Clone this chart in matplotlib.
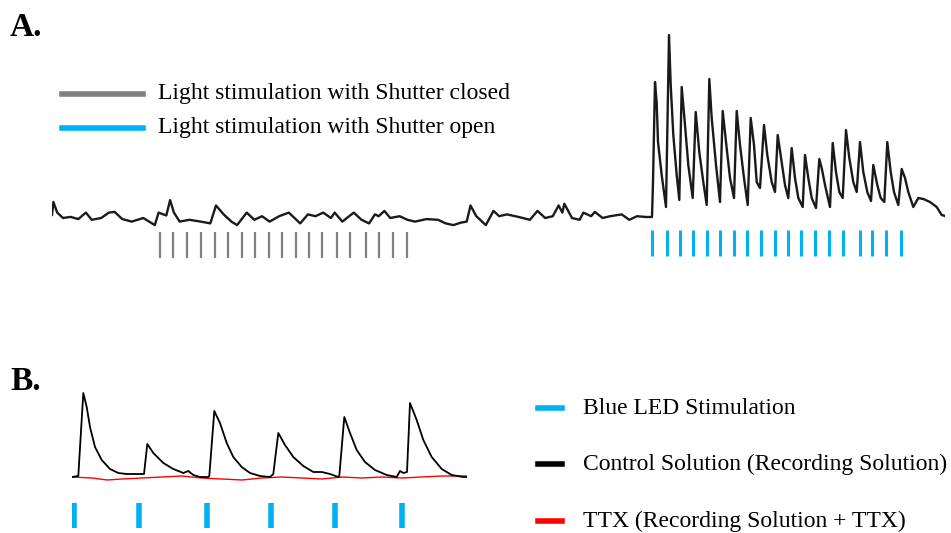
import numpy as np
import matplotlib.pyplot as plt
from matplotlib.lines import Line2D

plt.rcParams['font.family'] = ['Liberation Serif', 'DejaVu Serif']

# ---- panel A: trace (frame, a.u.) ----
trace_a_t = [0, 1.4, 5.2, 11, 18.6, 26.3, 33.9, 39.7, 49.2, 56.9, 62.6, 70.3, 79.8, 91.3,
             102.8, 106.6, 114.3, 118.1, 121.9, 127.7, 137.3, 148.7, 158.3, 164, 171.7,
             179.4, 185.1, 194.7, 202.3, 210, 217.6, 227.2, 236.8, 248.2, 255.9, 263.5,
             271.2, 278.9, 282.7, 290.3, 301.8, 309.5, 317.1, 322.9, 326.7, 332.4, 338.2,
             347.7, 355.4, 363, 374.5, 386, 393.7, 401.3, 409, 414.7, 418.5, 424.3, 433.8,
             441.5, 447.2, 454.9, 466.4, 477.9, 485.5, 493.2, 500.8, 506.6, 510.4, 512.3,
             520, 527.6, 531.4, 539.1, 542.9, 550.6, 558.2, 569.7, 577.3, 585, 594, 600,
             601, 603, 604.7, 606, 609.7, 614,
             617, 618.7, 621.3, 624.7, 627.3,
             629.7, 633, 636.3, 640.7,
             643.7, 647.3, 651.3, 654.7,
             657.3, 659.7, 664, 668,
             670.7, 674, 678, 682,
             684.7, 688, 692, 695.7,
             698.7, 702, 704.7, 708,
             712, 715.3, 719.7, 723,
             725.7, 729.7, 733, 736.3,
             739.7, 743, 746.3, 750.7,
             753, 756.3, 759.7, 764,
             767.3, 769.7, 773, 778,
             780.7, 784, 787.3, 790.7,
             794, 797.3, 801.3, 804.7,
             808, 811.3, 815.3, 819,
             821.3, 825.3, 828.7, 832.3,
             835.3, 838.7, 842, 846.3,
             849.7, 853, 856.3, 861.3,
             866.3, 871.3, 878, 884.7, 889.7, 893]
trace_a_y = [3, 16, 5.4, 0, 1.1, -1.1, 5.4, -1.8, 0, 5.4, 6.1, -1.1, -3.6, 0,
             -7.1, 5.4, 2.5, 17.9, 5.4, -3.6, -1.8, -3.6, -5.4, 12.5, 3.6,
             -3.6, -7.1, 5.4, -1.8, 1.8, -3.6, 1.8, 5.4, -5.4, 3.6, 1.8,
             5.4, 0, 5.4, -3.6, 5.4, -1.8, -5.4, 3.6, 1.8, 7.1, 0,
             1.8, -1.8, -3.6, -1.1, -1.8, -5.4, -7.1, -4.6, -3.6, 12.5, 1.8, -7.1,
             7.1, 1.8, 3.6, 1.1, -1.8, 7.1, 0, 1.8, 12.5, 5.4, 14.3,
             0, -1.8, 5.4, 1.8, 6.1, 0, 1.8, 3.6, -1.8, 1.8, 1, 1,
             36, 136, 115, 76, 43, 11,
             183, 133, 83, 43, 18,
             131, 93, 53, 20,
             106, 66, 36, 13,
             139, 100, 53, 16,
             107, 76, 40, 20,
             107, 73, 40, 13,
             100, 73, 36, 30,
             93, 63, 36, 26,
             83, 56, 33, 20,
             70, 40, 20, 11,
             63, 40, 20, 10,
             59, 50, 33, 11,
             75, 46, 26, 20,
             88, 60, 36, 26,
             76, 46, 26, 17,
             53, 33, 20, 16,
             76, 46, 26, 13,
             49, 40, 26, 11,
             20, 19, 16, 11, 3, 2]
stim_closed_t = [107.8, 121.2, 134.6, 149.1, 162.5, 175.9, 189.7, 202.7, 216.9, 229.9,
                 243.6, 257, 270.4, 284.6, 298, 314.4, 327.1, 340.5, 355.4]
stim_open_t = [600.3, 614.7, 628, 641.3, 655.3, 668, 682, 695.3, 709.3, 722.7,
               736, 749.3, 763, 777, 791, 807.7, 820.3, 833.7, 849]
legend_a = ['Light stimulation with Shutter closed', 'Light stimulation with Shutter open']

# ---- panel B ----
ctrl_t = [0, 6.3, 11.3, 14.7, 18, 23, 29.7, 38, 46.3, 54.7, 71.3,
          72, 75.3, 81.3, 91.3, 101.3, 111.3, 116.3, 121.3, 128, 136.3,
          137.3, 142.3, 148, 154.7, 161.3, 169.7, 178, 188, 198,
          201.3, 206.3, 213, 221.3, 231.3, 241.3, 249.7, 258, 266.3,
          267.3, 272.3, 278, 284.7, 293, 303, 314.7, 324.7, 328, 331.3, 335,
          338, 344.7, 351.3, 359.7, 369.7, 379.7, 391.3, 394.7]
ctrl_y = [0, 1, 84, 70, 50, 30, 17, 8, 4, 3, 3,
          3, 33, 24, 14, 8, 4, 6, 2, 0, 0,
          1, 66, 54, 34, 20, 10, 4, 1, 0,
          3, 44, 32, 20, 11, 5, 5, 3, 0,
          1, 60, 44, 27, 15, 7, 2, 0, 6, 4, 5,
          74, 57, 37, 20, 8, 2, 0, 0]
ttx_t = [0, 20, 35, 50, 70, 90, 110, 130, 150, 170, 190, 210, 230, 250, 270,
         290, 310, 330, 350, 370, 395]
ttx_y = [0, -1, -3, -2, -1, 0, 1, -1, -2, -3, -1, 0, -1, -2, 0,
         -1, 0, -1, 0, 1, 1]
led_t = [2, 67.3, 134.7, 199.3, 263, 330.3]
legend_b = ['Blue LED Stimulation', 'Control Solution (Recording Solution)',
            'TTX (Recording Solution + TTX)']

grey = '#808080'
blue = '#00b0f0'
red = '#ff0000'

fig = plt.figure(figsize=(9.51, 5.33), dpi=100)

# panel A
axA = fig.add_axes([52 / 951, 1 - 262 / 533, 893 / 951, 237 / 533])
axA.plot(trace_a_t, trace_a_y, color='#1a1a1a', lw=1.7)
axA.vlines(stim_closed_t, -14, -40, color=grey, lw=1.6)
axA.vlines(stim_open_t, -12, -38, color=blue, lw=2.2)
axA.set_xlim(0, 893)
axA.set_ylim(-44, 193)
axA.axis('off')

# panel B
axB = fig.add_axes([72 / 951, 0, 395 / 951, 148 / 533])
axB.plot(ttx_t, ttx_y, color=red, lw=1.0)
axB.plot(ctrl_t, ctrl_y, color='black', lw=1.3)
axB.vlines(led_t, -26, -51, color=blue, lw=4)
axB.set_xlim(0, 395)
axB.set_ylim(-56, 92)
axB.axis('off')

# panel letters
fig.text(10 / 951, 1 - 28 / 533, 'A.', fontsize=24, fontweight='bold', va='center')
fig.text(10 / 951, 1 - 382 / 533, 'B.', fontsize=24, fontweight='bold', va='center')

# legend A
for i, (lab, col) in enumerate(zip(legend_a, [grey, blue])):
    y = 1 - (94 + 34 * i) / 533
    fig.add_artist(Line2D([62 / 951, 143 / 951], [y, y], color=col, lw=4,
                          transform=fig.transFigure))
    fig.text(158 / 951, y, lab, fontsize=17, va='center')

# legend B
for lab, col, yy in zip(legend_b, [blue, 'black', red], [408, 464, 521]):
    y = 1 - yy / 533
    fig.add_artist(Line2D([538 / 951, 562 / 951], [y, y], color=col, lw=4,
                          transform=fig.transFigure))
    fig.text(583 / 951, y, lab, fontsize=17, va='center')

fig.savefig('out.png', dpi=100)
